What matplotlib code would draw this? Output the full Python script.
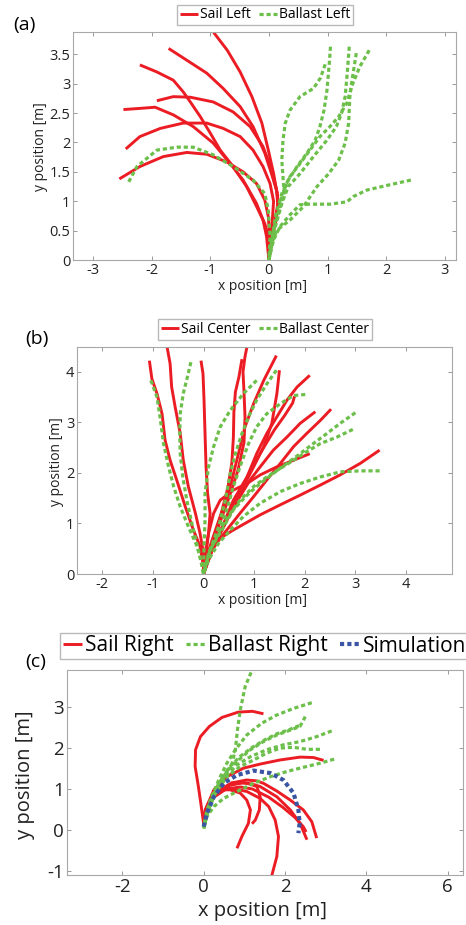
import matplotlib
matplotlib.use('Agg')
import matplotlib.pyplot as plt
from matplotlib.ticker import FormatStrFormatter
from matplotlib.lines import Line2D

plt.rcParams['font.family'] = ['Open Sans', 'DejaVu Sans']

RED = '#ec1c24'
GREEN = '#6cbf4a'
BLUE = '#3a55a4'
GRAY = '#a8a8a8'

# %% panel (a) data : (x, y) per run
sail_left = [
    ([-0.97, -0.94, -0.71, -0.49, -0.29, -0.12, -0.01, 0.08, 0.14, 0.16, 0.12, 0.05, 0.0],
     [3.92, 3.87, 3.57, 3.20, 2.78, 2.33, 1.87, 1.47, 1.13, 0.96, 0.68, 0.40, 0.0]),
    ([-1.71, -1.40, -1.06, -0.78, -0.49, -0.27, -0.07, 0.05, 0.14, 0.16, 0.10, 0.03, 0.0],
     [3.60, 3.40, 3.18, 2.92, 2.61, 2.27, 1.82, 1.45, 1.15, 0.96, 0.60, 0.25, 0.0]),
    ([-2.20, -1.91, -1.63, -1.46, -1.34, -1.17, -1.00, -0.83, -0.61, -0.38, -0.21, -0.07, -0.01, 0.0],
     [3.32, 3.20, 3.06, 2.86, 2.69, 2.44, 2.16, 1.87, 1.59, 1.25, 0.91, 0.62, 0.40, 0.0]),
    ([-1.91, -1.63, -1.34, -0.95, -0.61, -0.32, -0.10, 0.05, 0.13, 0.15, 0.08, 0.0],
     [2.71, 2.78, 2.77, 2.69, 2.52, 2.27, 1.93, 1.53, 1.20, 0.95, 0.50, 0.0]),
    ([-2.48, -2.20, -1.94, -1.63, -1.29, -0.95, -0.66, -0.44, -0.21, -0.10, -0.04, 0.0],
     [2.56, 2.58, 2.60, 2.47, 2.27, 1.99, 1.64, 1.36, 0.96, 0.68, 0.40, 0.0]),
    ([-2.44, -2.20, -1.85, -1.46, -1.06, -0.78, -0.49, -0.27, -0.10, 0.02, 0.08, 0.06, 0.02, 0.0],
     [1.89, 2.10, 2.24, 2.33, 2.33, 2.24, 2.10, 1.87, 1.59, 1.30, 1.00, 0.70, 0.35, 0.0]),
    ([-2.55, -2.20, -1.80, -1.40, -1.06, -0.72, -0.44, -0.21, -0.07, -0.01, 0.02, 0.0],
     [1.38, 1.59, 1.76, 1.83, 1.80, 1.67, 1.50, 1.30, 1.02, 0.74, 0.28, 0.0]),
]
ballast_left = [
    ([-2.39, -2.25, -1.91, -1.57, -1.29, -0.95, -0.61, -0.27, -0.07, -0.01, 0.02, 0.0],
     [1.33, 1.59, 1.87, 1.92, 1.92, 1.79, 1.59, 1.36, 1.13, 0.85, 0.40, 0.0]),
    ([0.96, 0.88, 0.76, 0.53, 0.36, 0.28, 0.24, 0.22, 0.24, 0.26, 0.18, 0.08, 0.02, 0.0],
     [3.33, 3.10, 2.92, 2.78, 2.55, 2.33, 2.04, 1.70, 1.42, 1.13, 0.85, 0.50, 0.20, 0.0]),
    ([1.05, 1.03, 0.99, 0.94, 0.87, 0.79, 0.65, 0.48, 0.33, 0.22, 0.14, 0.05, 0.0],
     [3.63, 3.35, 2.89, 2.55, 2.27, 2.04, 1.82, 1.59, 1.36, 1.08, 0.74, 0.40, 0.0]),
    ([1.37, 1.34, 1.30, 1.24, 1.15, 0.99, 0.76, 0.53, 0.33, 0.22, 0.11, 0.0],
     [3.63, 3.23, 2.78, 2.50, 2.27, 2.04, 1.76, 1.47, 1.25, 0.96, 0.57, 0.0]),
    ([1.49, 1.41, 1.38, 1.36, 1.30, 1.19, 1.02, 0.82, 0.59, 0.36, 0.14, 0.02, 0.0],
     [3.52, 3.01, 2.78, 2.33, 1.99, 1.70, 1.47, 1.25, 0.91, 0.68, 0.51, 0.23, 0.0]),
    ([1.71, 1.55, 1.41, 1.33, 1.19, 1.04, 0.87, 0.70, 0.53, 0.36, 0.22, 0.11, 0.0],
     [3.57, 3.29, 2.95, 2.67, 2.44, 2.27, 2.10, 1.87, 1.64, 1.42, 1.13, 0.74, 0.0]),
    ([2.42, 2.06, 1.67, 1.44, 1.33, 1.04, 0.67, 0.53, 0.36, 0.19, 0.08, 0.0],
     [1.36, 1.28, 1.19, 1.08, 0.99, 0.95, 0.95, 0.94, 0.77, 0.57, 0.34, 0.0]),
]

# %% panel (b) data
sail_center = [
    ([-1.07, -1.02, -0.92, -0.82, -0.76, -0.66, -0.53, -0.36, -0.20, -0.07, 0.0, 0.0],
     [4.22, 3.86, 3.57, 3.17, 2.65, 2.25, 1.86, 1.33, 0.87, 0.55, 0.15, 0.0]),
    ([-0.74, -0.66, -0.63, -0.56, -0.46, -0.40, -0.30, -0.16, -0.07, 0.0, 0.0],
     [4.60, 4.16, 3.70, 3.30, 2.78, 2.25, 1.73, 1.20, 0.81, 0.41, 0.0]),
    ([-0.05, -0.01, 0.01, 0.03, 0.05, 0.08, 0.13, 0.10, 0.03, 0.0],
     [4.22, 3.96, 3.44, 2.78, 2.12, 1.60, 1.20, 0.81, 0.41, 0.0]),
    ([0.88, 0.82, 0.78, 0.80, 0.82, 0.80, 0.68, 0.50, 0.30, 0.12, 0.0],
     [4.60, 4.30, 4.00, 3.60, 3.10, 2.60, 2.05, 1.50, 0.95, 0.45, 0.0]),
    ([0.76, 0.70, 0.63, 0.60, 0.59, 0.56, 0.48, 0.35, 0.18, 0.05, 0.0],
     [4.25, 3.90, 3.60, 3.20, 2.70, 2.20, 1.70, 1.20, 0.70, 0.30, 0.0]),
    ([1.44, 1.19, 0.99, 0.82, 0.69, 0.56, 0.40, 0.23, 0.07, 0.0],
     [4.32, 3.83, 3.37, 2.91, 2.38, 1.86, 1.33, 0.81, 0.35, 0.0]),
    ([1.50, 1.45, 1.35, 1.19, 0.99, 0.79, 0.59, 0.40, 0.20, 0.05, 0.0],
     [4.03, 3.57, 2.98, 2.52, 2.12, 1.73, 1.33, 0.94, 0.55, 0.20, 0.0]),
    ([2.10, 1.85, 1.65, 1.45, 1.25, 1.05, 0.86, 0.59, 0.40, 0.20, 0.05, 0.0],
     [3.93, 3.70, 3.44, 3.11, 2.78, 2.38, 1.92, 1.46, 1.00, 0.55, 0.20, 0.0]),
    ([1.80, 1.76, 1.60, 1.40, 1.20, 1.00, 0.80, 0.58, 0.38, 0.18, 0.0],
     [3.52, 3.38, 3.13, 2.85, 2.52, 2.18, 1.80, 1.38, 0.95, 0.50, 0.0]),
    ([2.21, 1.91, 1.65, 1.38, 1.12, 0.92, 0.72, 0.53, 0.33, 0.13, 0.0],
     [3.21, 2.98, 2.71, 2.45, 2.12, 1.86, 1.53, 1.20, 0.81, 0.41, 0.0]),
    ([2.52, 2.31, 2.04, 1.78, 1.52, 1.25, 0.99, 0.72, 0.46, 0.20, 0.0],
     [3.26, 3.04, 2.78, 2.52, 2.19, 1.86, 1.53, 1.20, 0.87, 0.55, 0.0]),
    ([2.10, 1.78, 1.45, 1.12, 0.86, 0.59, 0.33, 0.20, 0.10, 0.0],
     [2.38, 2.25, 2.12, 1.96, 1.79, 1.66, 1.46, 1.20, 0.81, 0.0]),
    ([3.48, 3.10, 2.70, 2.31, 1.91, 1.52, 1.12, 0.59, 0.33, 0.13, 0.0],
     [2.45, 2.19, 1.96, 1.76, 1.56, 1.37, 1.17, 0.87, 0.71, 0.41, 0.0]),
]
ballast_center = [
    ([-1.04, -0.92, -0.86, -0.79, -0.69, -0.59, -0.46, -0.30, -0.13, -0.03, 0.0],
     [3.83, 3.50, 3.11, 2.58, 2.12, 1.73, 1.33, 0.94, 0.55, 0.22, 0.0]),
    ([-0.25, -0.32, -0.40, -0.46, -0.47, -0.46, -0.41, -0.33, -0.23, -0.12, -0.03, 0.0],
     [4.19, 3.89, 3.57, 3.17, 2.78, 2.38, 1.92, 1.46, 1.00, 0.55, 0.15, 0.0]),
    ([1.05, 0.79, 0.53, 0.33, 0.20, 0.10, 0.03, 0.03, 0.01, 0.0],
     [3.83, 3.57, 3.24, 2.91, 2.52, 2.12, 1.60, 1.07, 0.55, 0.0]),
    ([1.44, 1.25, 1.05, 0.89, 0.76, 0.63, 0.53, 0.43, 0.30, 0.13, 0.0],
     [4.03, 3.76, 3.44, 3.11, 2.78, 2.38, 1.99, 1.46, 0.94, 0.48, 0.0]),
    ([2.01, 1.78, 1.52, 1.25, 1.05, 0.89, 0.72, 0.59, 0.46, 0.30, 0.10, 0.0],
     [3.55, 3.53, 3.37, 3.17, 2.91, 2.58, 2.12, 1.73, 1.27, 0.81, 0.41, 0.0]),
    ([3.00, 2.70, 2.44, 2.17, 1.91, 1.65, 1.38, 1.12, 0.86, 0.59, 0.36, 0.13, 0.0],
     [3.19, 2.98, 2.78, 2.58, 2.38, 2.19, 1.99, 1.79, 1.56, 1.27, 0.87, 0.48, 0.0]),
    ([2.95, 2.64, 2.31, 2.04, 1.78, 1.52, 1.25, 0.99, 0.72, 0.53, 0.33, 0.13, 0.0],
     [2.86, 2.71, 2.58, 2.42, 2.25, 2.09, 1.92, 1.73, 1.46, 1.20, 0.87, 0.48, 0.0]),
    ([3.48, 3.10, 2.70, 2.31, 1.91, 1.52, 1.12, 0.79, 0.53, 0.30, 0.10, 0.0],
     [2.04, 2.04, 2.02, 1.92, 1.79, 1.63, 1.40, 1.14, 0.87, 0.61, 0.28, 0.0]),
]

# %% panel (c) data
sail_right = [
    ([0.0, -0.07, -0.13, -0.21, -0.20, -0.08, 0.14, 0.45, 0.85, 1.20, 1.47],
     [0.15, 0.65, 1.06, 1.55, 1.96, 2.28, 2.53, 2.75, 2.88, 2.90, 2.84]),
    ([0.0, 0.04, 0.25, 0.57, 0.98, 1.39, 1.88, 2.37, 2.70, 2.95],
     [0.15, 0.49, 0.98, 1.30, 1.51, 1.61, 1.71, 1.78, 1.77, 1.70]),
    ([0.0, 0.08, 0.30, 0.60, 0.95, 1.20, 1.39, 1.80, 2.13, 2.37, 2.54],
     [0.2, 0.55, 0.90, 1.08, 1.15, 1.12, 1.06, 0.81, 0.49, 0.16, -0.24]),
    ([0.0, 0.10, 0.35, 0.70, 1.05, 1.30, 1.47, 1.80, 2.13, 2.45, 2.66, 2.78],
     [0.3, 0.62, 0.95, 1.15, 1.22, 1.20, 1.14, 0.95, 0.73, 0.49, 0.20, -0.20]),
    ([0.0, 0.06, 0.25, 0.55, 0.90, 1.20, 1.60, 1.95, 2.25, 2.45, 2.52],
     [0.15, 0.45, 0.80, 1.00, 1.05, 1.00, 0.80, 0.55, 0.30, 0.08, -0.05]),
    ([0.0, 0.05, 0.25, 0.50, 0.65, 0.90, 1.06, 1.15, 1.10, 0.94, 0.82],
     [0.2, 0.50, 0.82, 0.98, 0.98, 0.90, 0.73, 0.49, 0.16, -0.16, -0.45]),
    ([0.0, 0.04, 0.25, 0.65, 1.06, 1.39, 1.60, 1.76, 1.84, 1.80, 1.68, 1.64],
     [0.2, 0.49, 0.90, 1.02, 0.94, 0.77, 0.57, 0.24, -0.16, -0.65, -1.10, -1.25]),
    ([0.0, 0.10, 0.35, 0.70, 1.05, 1.31, 1.39, 1.37, 1.27, 1.19],
     [0.25, 0.60, 0.95, 1.15, 1.15, 1.06, 0.81, 0.49, 0.24, 0.15]),
]
ballast_right = [
    ([1.25, 1.19, 1.02, 0.90, 0.83, 0.78, 0.70, 0.49, 0.25, 0.08, 0.0],
     [4.00, 3.91, 3.50, 2.93, 2.44, 1.96, 1.63, 1.30, 0.90, 0.49, 0.04]),
    ([2.66, 2.21, 1.80, 1.43, 1.06, 0.78, 0.57, 0.37, 0.16, 0.02, 0.0],
     [3.11, 2.97, 2.81, 2.61, 2.32, 1.96, 1.63, 1.22, 0.73, 0.16, 0.04]),
    ([2.50, 2.37, 2.13, 1.80, 1.47, 1.15, 0.86, 0.61, 0.37, 0.16, 0.0],
     [2.77, 2.53, 2.44, 2.32, 2.16, 1.96, 1.71, 1.47, 1.14, 0.65, 0.04]),
    ([3.15, 2.78, 2.37, 1.96, 1.55, 1.15, 0.82, 0.53, 0.29, 0.08, 0.0],
     [2.42, 2.28, 2.16, 2.08, 1.96, 1.79, 1.59, 1.30, 0.90, 0.41, 0.04]),
    ([2.86, 2.54, 2.21, 1.88, 1.55, 1.23, 0.90, 0.57, 0.29, 0.08, 0.0],
     [1.97, 1.97, 2.02, 2.00, 1.88, 1.71, 1.55, 1.30, 0.90, 0.41, 0.04]),
    ([3.21, 2.86, 2.45, 2.05, 1.64, 1.23, 0.82, 0.49, 0.25, 0.08, 0.0],
     [1.73, 1.63, 1.53, 1.43, 1.30, 1.14, 0.94, 0.77, 0.57, 0.33, 0.04]),
    ([2.35, 2.10, 1.80, 1.50, 1.20, 0.90, 0.62, 0.38, 0.16, 0.0],
     [2.55, 2.45, 2.35, 2.20, 2.02, 1.80, 1.52, 1.15, 0.65, 0.04]),
]
sim_x = [0.0, 0.08, 0.25, 0.49, 0.82, 1.23, 1.64, 1.96, 2.21, 2.33, 2.36, 2.33]
sim_y = [0.08, 0.41, 0.81, 1.14, 1.34, 1.45, 1.39, 1.22, 0.90, 0.49, 0.16, -0.08]

# %% figure

W, H = 466, 925
fig = plt.figure(figsize=(W / 100, H / 100), dpi=100)


def px_axes(l, t, r, b):
    return fig.add_axes([l / W, 1 - b / H, (r - l) / W, (b - t) / H])


def style(ax, xt, yt, fs):
    ax.set_xticks(xt)
    ax.set_yticks(yt)
    ax.xaxis.set_major_formatter(FormatStrFormatter('%g'))
    ax.yaxis.set_major_formatter(FormatStrFormatter('%g'))
    ax.tick_params(direction='in', top=True, right=True, length=3, width=0.6,
                   color='#888888', labelsize=fs, labelcolor='#222222', pad=2)
    for s in ax.spines.values():
        s.set_color(GRAY)
        s.set_linewidth(0.8)


def legend(handles, labels, anchor, loc, fs):
    fig.legend(handles, labels, loc=loc, bbox_to_anchor=anchor, ncol=len(labels), fontsize=fs,
               frameon=True, fancybox=False, edgecolor=GRAY, handlelength=1.3,
               handletextpad=0.15, columnspacing=0.6, borderpad=0.2, borderaxespad=0)


sail_kw = dict(color=RED, lw=2.1, solid_capstyle='butt')
ballast_kw = dict(color=GREEN, lw=2.3, linestyle=(0, (1.3, 0.9)))
sim_kw = dict(color=BLUE, lw=3.0, linestyle=(0, (1.0, 0.75)))

# (a)
ax1 = px_axes(73, 32, 456, 260)
for x, y in sail_left:
    ax1.plot(x, y, **sail_kw)
for x, y in ballast_left:
    ax1.plot(x, y, **ballast_kw)
ax1.set_xlim(-3.34, 3.19)
ax1.set_ylim(0, 3.88)
style(ax1, range(-3, 4), [0, 0.5, 1, 1.5, 2, 2.5, 3, 3.5], 10.5)
fig.text(263 / W, 1 - 287 / H, 'x position [m]', ha='center', va='center', fontsize=10, color='#222222')
fig.text(41 / W, 1 - 147 / H, 'y position [m]', ha='center', va='center', rotation=90, fontsize=10, color='#222222')
fig.text(13 / W, 1 - 25 / H, '(a)', ha='left', va='center', fontsize=14)
legend([Line2D([], [], **sail_kw), Line2D([], [], **ballast_kw)], ['Sail Left', 'Ballast Left'],
       (265 / W, 1 - 15 / H), 'center', 10)

# (b)
ax2 = px_axes(77, 347, 452, 574)
for x, y in sail_center:
    ax2.plot(x, y, **sail_kw)
for x, y in ballast_center:
    ax2.plot(x, y, **ballast_kw)
ax2.set_xlim(-2.5, 4.91)
ax2.set_ylim(0, 4.49)
style(ax2, range(-2, 5), range(0, 5), 10.5)
fig.text(263 / W, 1 - 600 / H, 'x position [m]', ha='center', va='center', fontsize=10, color='#222222')
fig.text(57 / W, 1 - 462 / H, 'y position [m]', ha='center', va='center', rotation=90, fontsize=10, color='#222222')
fig.text(25 / W, 1 - 339 / H, '(b)', ha='left', va='center', fontsize=14)
legend([Line2D([], [], **sail_kw), Line2D([], [], **ballast_kw)], ['Sail Center', 'Ballast Center'],
       (265 / W, 1 - 329.5 / H), 'center', 10)

# (c)
ax3 = px_axes(66.7, 670, 463, 875.3)
for x, y in sail_right:
    ax3.plot(x, y, **sail_kw)
for x, y in ballast_right:
    ax3.plot(x, y, **ballast_kw)
ax3.plot(sim_x, sim_y, **sim_kw)
ax3.set_xlim(-3.37, 6.38)
ax3.set_ylim(-1.11, 3.91)
style(ax3, [-2, 0, 2, 4, 6], [-1, 0, 1, 2, 3], 13.5)
fig.text(262 / W, 1 - 911 / H, 'x position [m]', ha='center', va='center', fontsize=14.5, color='#222222')
fig.text(25 / W, 1 - 775 / H, 'y position [m]', ha='center', va='center', rotation=90, fontsize=14.5, color='#222222')
fig.text(25 / W, 1 - 662 / H, '(c)', ha='left', va='center', fontsize=14)
fig.legend([Line2D([], [], **sail_kw), Line2D([], [], **ballast_kw), Line2D([], [], **sim_kw)],
           ['Sail Right', 'Ballast Right', 'Simulation'],
           loc='upper left', bbox_to_anchor=(60 / W, 1 - 633 / H), ncol=3, fontsize=15,
           frameon=True, fancybox=False, edgecolor=GRAY, handlelength=0.95, handletextpad=0.12,
           columnspacing=0.6, borderpad=0.12, borderaxespad=0)

fig.savefig('out.png', dpi=100)
